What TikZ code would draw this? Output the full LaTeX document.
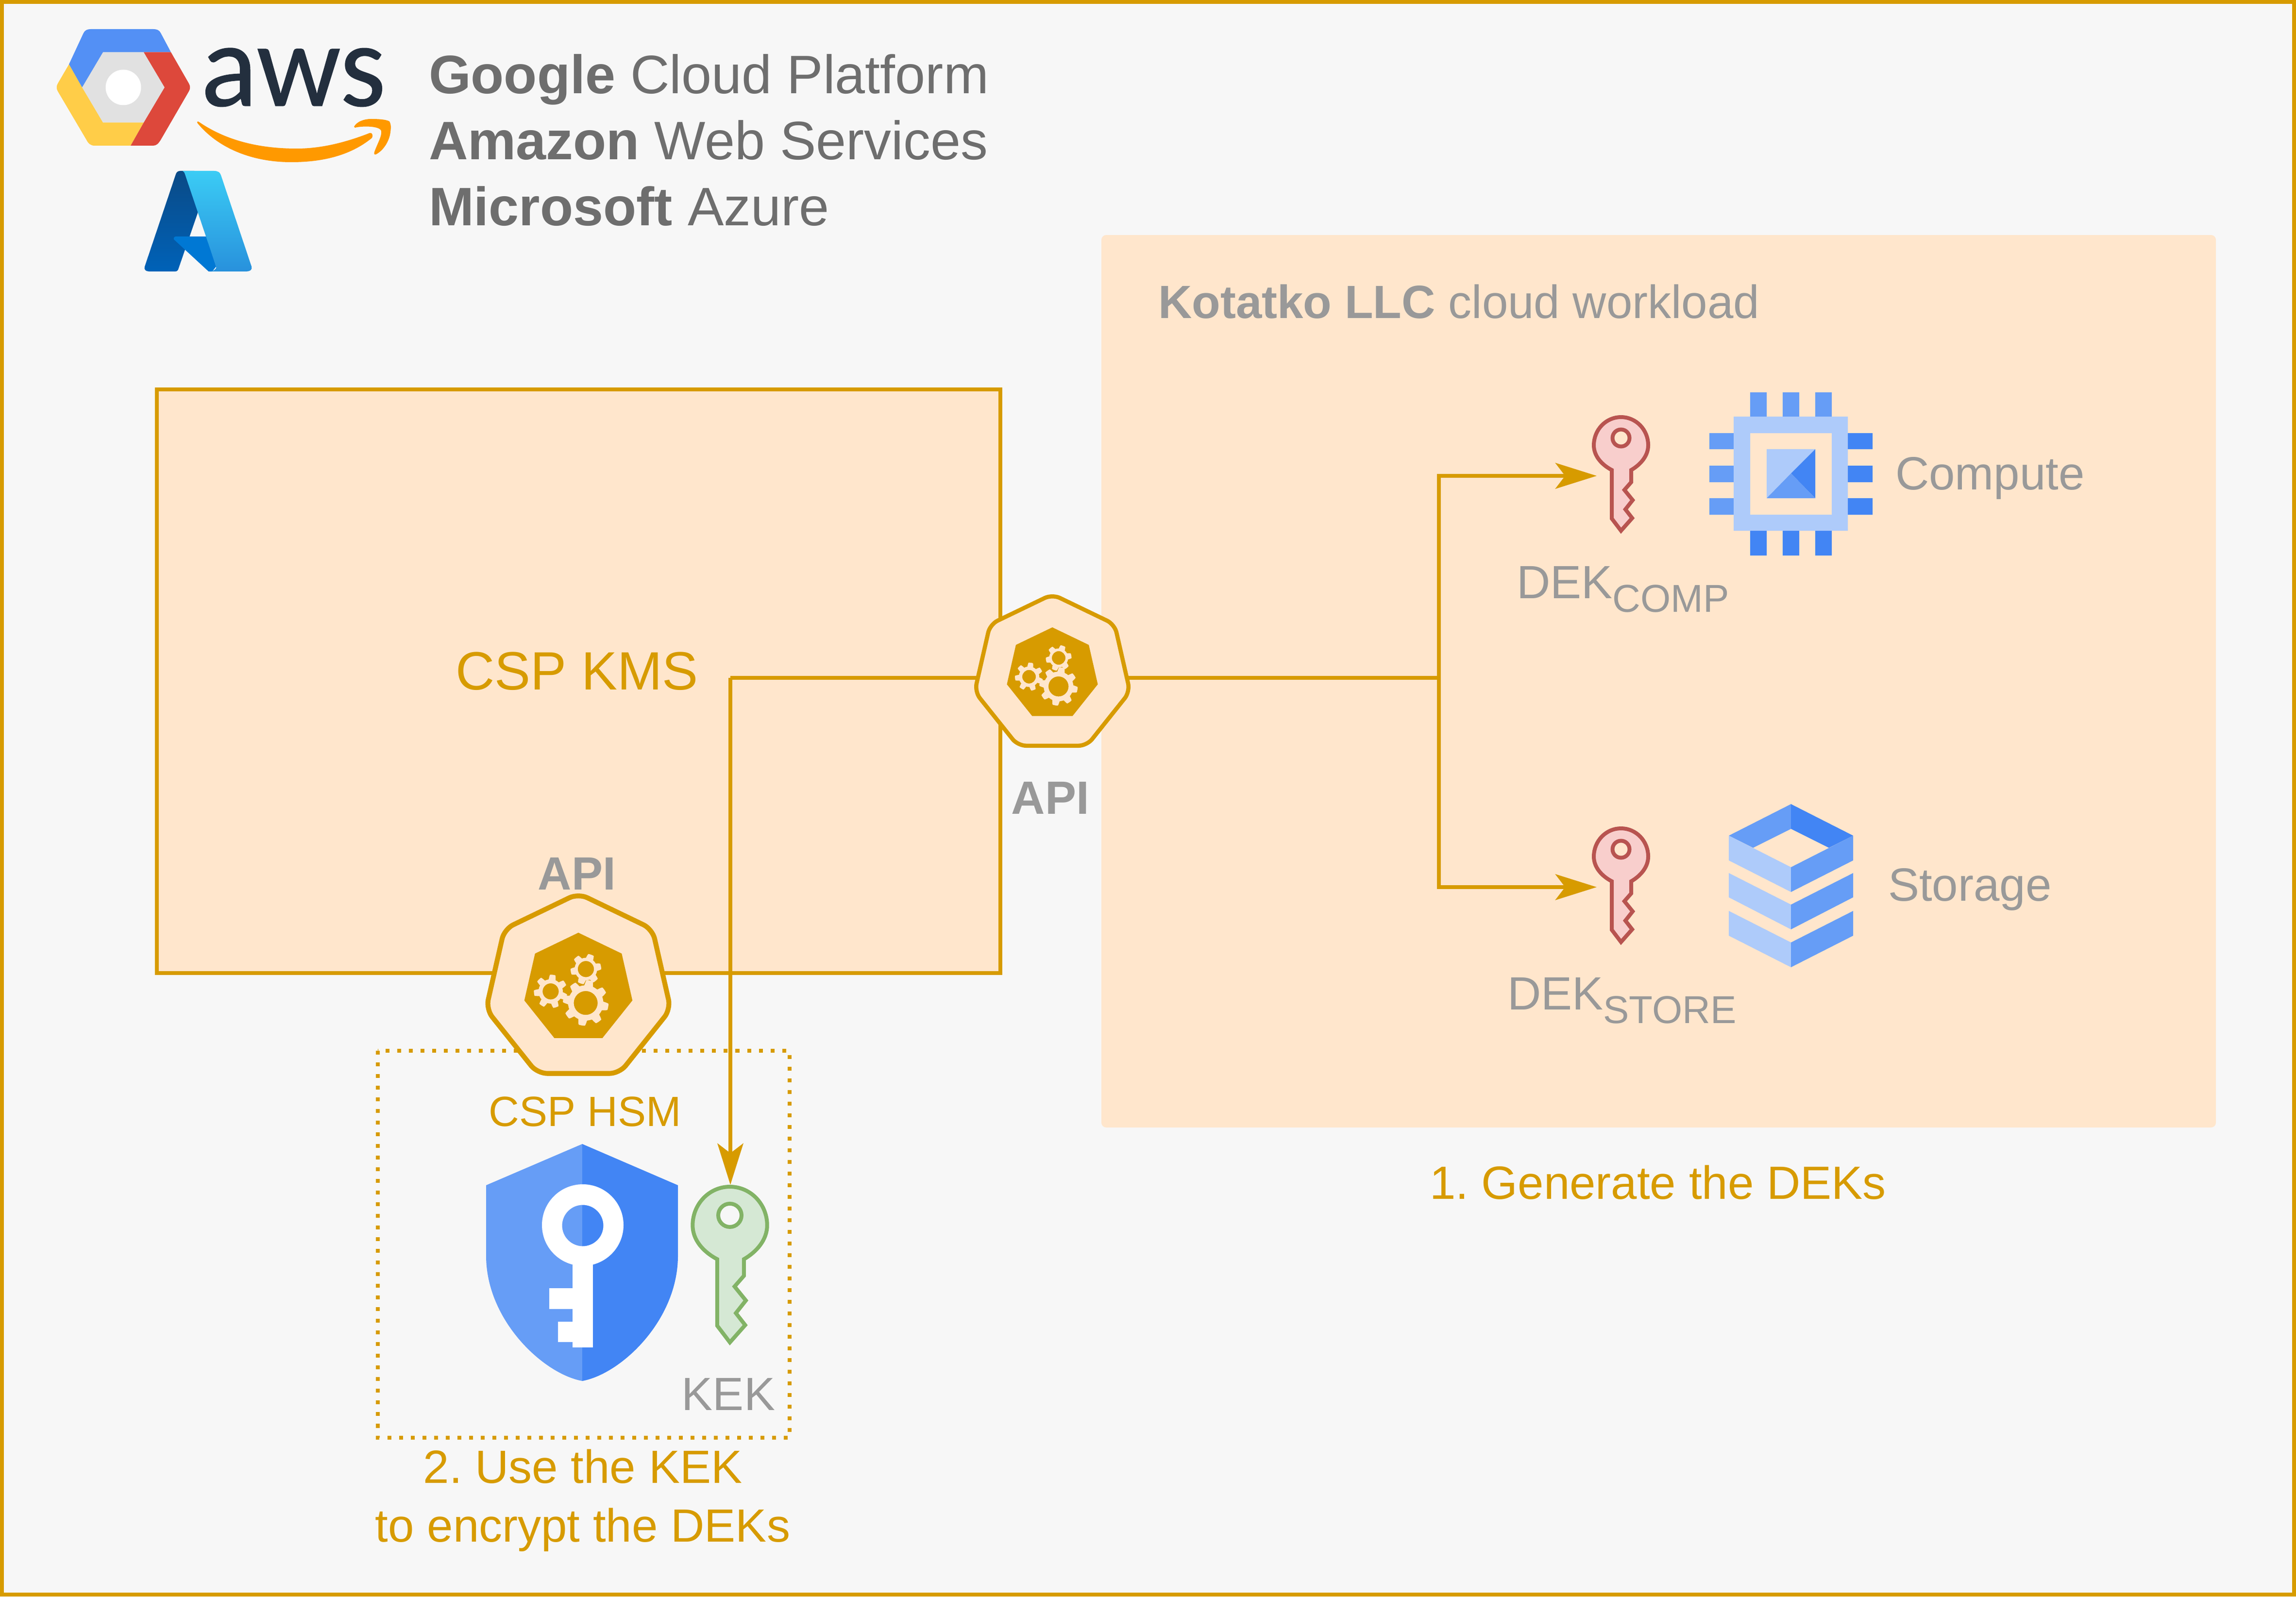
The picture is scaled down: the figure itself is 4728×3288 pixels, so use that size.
\documentclass[tikz,border=0pt]{standalone}
\usepackage{fontspec}
\setmainfont{Liberation Sans}
\newfontfamily\awsfont[FakeBold=0.5]{Carlito}
\usetikzlibrary{shapes.geometric,arrows.meta}
\definecolor{gold}{HTML}{D79B00}
\definecolor{peach}{HTML}{FFE6CC}
\definecolor{pagebg}{HTML}{F7F7F7}
\definecolor{lt}{HTML}{AECBFA}
\definecolor{md}{HTML}{669DF6}
\definecolor{dk}{HTML}{4285F4}
\definecolor{headtx}{HTML}{6E6E6E}
\definecolor{graytx}{HTML}{999999}
\definecolor{goldtx}{HTML}{D79B00}
\definecolor{gcpblue}{HTML}{5390F5}
\definecolor{gcpyellow}{HTML}{FFCD48}
\definecolor{gcpred}{HTML}{DD483B}
\definecolor{gcpgray}{HTML}{E1E1E1}
\definecolor{awsink}{HTML}{232F3E}
\definecolor{awsorange}{HTML}{FF9900}
\definecolor{azA}{HTML}{0A4A86}
\definecolor{azB}{HTML}{0062B8}
\definecolor{azC}{HTML}{0078D4}
\definecolor{azD}{HTML}{3BCCF5}
\definecolor{azE}{HTML}{2891DC}
\definecolor{redfill}{HTML}{F8CECC}
\definecolor{redline}{HTML}{B85450}
\definecolor{greenfill}{HTML}{D5E8D4}
\definecolor{greenline}{HTML}{82B366}
\pgfdeclarelayer{base}
\pgfdeclarelayer{conn}
\pgfsetlayers{base,conn,main}
\newcommand{\fpx}[1]{\pgfmathsetmacro\fpxv{#1*0.28453}\fontsize{\fpxv}{\fpxv}\selectfont}
\frenchspacing
\tikzset{
  x=0.01cm,y=-0.01cm,
  px8/.style={line width=0.08cm},
  tl/.style={inner sep=0pt,outer sep=0pt,anchor=base west},
  tc/.style={inner sep=0pt,outer sep=0pt,anchor=base},
  wire/.style={draw=gold,px8},
  tip/.style={-{Stealth[length=0.85cm,width=0.53cm,inset=0.2cm,fill=gold]}},
  heptout/.style={regular polygon,regular polygon sides=7,draw=gold,fill=peach,inner sep=0pt,outer sep=0pt},
  heptin/.style={regular polygon,regular polygon sides=7,fill=gold,inner sep=0pt,outer sep=0pt},
}
% key: centre x, top y, scale, fill, stroke, hole fill
\newcommand{\keyicon}[6]{%
  \begin{scope}[shift={(#1,#2)},scale=#3]
    \filldraw[fill=#4,draw=#5,line width=0.08cm,miter limit=4]
      (-19,109) .. controls (-40,98) and (-56,80) .. (-56,58)
      .. controls (-56,26) and (-31,0) .. (0,0)
      .. controls (31,0) and (56,26) .. (56,58)
      .. controls (56,80) and (40,98) .. (21,109)
      -- (21,134) -- (7,150) -- (24,171) -- (9,190) -- (23,208) -- (0,234) -- (-19,209) -- cycle;
    \filldraw[fill=#6,draw=#5,line width=0.08cm] (0,43) circle (17.5);
  \end{scope}}
% gear: cx, cy, mid radius, amplitude, hole, teeth, phase
\newcommand{\gearicon}[7]{%
  \fill[peach,even odd rule]
    plot[domain=0:360,samples=289,variable=\t]
      ({#1+(#3+#4*max(-1,min(1,2.4*cos(#6*(\t-#7)))))*cos(\t)},
       {#2+(#3+#4*max(-1,min(1,2.4*cos(#6*(\t-#7)))))*sin(\t)}) -- cycle
    (#1,#2) circle (#5);}
% API heptagon: name, cx, cy, R
\newcommand{\apihex}[4]{%
  \pgfmathsetmacro\hs{#4/164}
  \pgfmathsetmacro\hdo{2*#4*0.01}
  \pgfmathsetmacro\hdi{2*96*\hs*0.01}
  \pgfmathsetmacro\hlw{0.085*\hs}
  \pgfmathsetmacro\hrc{0.17*\hs}
  \node[heptout,minimum size=\hdo cm,line width=\hlw cm,rounded corners=\hrc cm] (#1) at (#2,#3) {};
  \node[heptin,minimum size=\hdi cm] (#1in) at (#2,#3) {};
  \begin{scope}[shift={(#2,#3)},scale=\hs]
    \gearicon{12.7}{25.7}{35}{4.5}{20.7}{8}{10}
    \gearicon{13}{-33}{23}{3.5}{14}{6}{-10}
    \gearicon{-48}{5.7}{25}{4}{14}{7}{20}
  \end{scope}}
\begin{document}
\begin{tikzpicture}
\useasboundingbox (0,0) rectangle (4728,3288);
\begin{pgfonlayer}{base}
  \filldraw[fill=pagebg,draw=gold,px8] (4,4) rectangle (4724,3284);
  \fill[peach,rounded corners=0.1cm] (2268,484) rectangle (4563,2322);
  \filldraw[fill=peach,draw=gold,px8] (323,802) rectangle (2060,2004);
  \draw[gold,line width=0.08cm,dash pattern=on 0.08cm off 0.16cm] (778,2164) rectangle (1626,2961);
\end{pgfonlayer}

% cloud provider logos
\fill[gcpgray] (212,107.5) -- (296,107.5) -- (339,180) -- (296,252.5) -- (212,252.5) -- (169,180) -- cycle;
\fill[white] (254,180) circle (36.5);
\fill[gcpblue] (142,132.5) -- (172,68) .. controls (175,62) and (180,60) .. (187,60) -- (316,60) .. controls (323,60) and (328,62) .. (331,68) -- (352,107.5) -- (212,107.5) -- (169,180) -- cycle;
\fill[gcpyellow] (142,132.5) -- (119,172) .. controls (116,177) and (116,183) .. (119,188) -- (178,288) .. controls (182,296) and (187,300) .. (195,300) -- (269,300) -- (296,252.5) -- (212,252.5) -- (169,180) -- cycle;
\fill[gcpred] (352,107.5) -- (389,172) .. controls (392,177) and (392,183) .. (389,188) -- (331,288) .. controls (326,296) and (322,300) .. (315,300) -- (269,300) -- (296,252.5) -- (339,180) -- (296,107.5) -- cycle;
\node[inner sep=0pt,anchor=base,text=awsink,xscale=0.99] (awsword) at (604,218) {\awsfont\fpx{245}aws};
\fill[awsorange] (407,254) .. controls (404,250) and (408,249) .. (411,252) .. controls (470,292) and (540,306) .. (611,306) .. controls (660,306) and (710,294) .. (761,274) .. controls (766,272) and (769,279) .. (766,284) .. controls (720,322) and (660,334) .. (600,334) .. controls (520,334) and (450,306) .. (407,254) -- cycle;
\fill[awsorange] (729,261) .. controls (735,250) and (750,245) .. (764,245) .. controls (780,245) and (795,246) .. (802,250) .. controls (806,258) and (805,265) .. (804,272) .. controls (802,290) and (790,310) .. (774,318) .. controls (770,319) and (770,316) .. (771,313) .. controls (776,298) and (787,280) .. (785,270) .. controls (783,259) and (745,259) .. (731,263) -- cycle;
\shade[top color=azA,bottom color=azB] (371,352) .. controls (365,352) and (363,356) .. (362,359) -- (298,549) .. controls (296,555) and (300,559) .. (307,559) -- (361,559) .. controls (365,559) and (367,556) .. (368,552) -- (408,436) -- (400,352) -- cycle;
\fill[azC] (363,487) -- (425,487) -- (445,549) -- (437,559) -- (429.5,559) -- (358,493) .. controls (357,490) and (359,487) .. (363,487) -- cycle;
\shade[top color=azD,bottom color=azE] (376,352) -- (441,352) .. controls (449,352) and (453,355) .. (455,361) -- (518,549) .. controls (520,555) and (515,559) .. (508,559) -- (432,559) .. controls (441,558) and (447,553) .. (445,549) -- (381,359) .. controls (380,355) and (378,353) .. (376,352) -- cycle;

\node[tl,text=headtx] (gcp) at (883,193) {\fpx{111.5}\textbf{Google} Cloud Platform};
\node[tl,text=headtx] (amz) at (883,329) {\fpx{111.5}\textbf{Amazon} Web Services};
\node[tl,text=headtx] (msa) at (883,464) {\fpx{111.5}\textbf{Microsoft} Azure};

\node[tl,text=graytx] (wl) at (2385,655) {\fpx{96}\textbf{Kotatko LLC} cloud workload};
\node[tc,text=goldtx] (kms) at (1188,1420) {\fpx{111}CSP KMS};

\apihex{apiCloud}{2167}{1388}{164}
\apihex{apiHsm}{1191}{2035}{195}
\node[tc,text=graytx] (apilabR) at (2163,1676) {\fpx{96}\textbf{API}};
\node[tc,text=graytx] (apilabB) at (1188,1832) {\fpx{96}\textbf{API}};

% coordinates of the connectors
\coordinate (busL) at (1504,1396);
\coordinate (busR) at (2963,1396);
\coordinate (kekTip) at (1504,2440);
\coordinate (compTip) at (3288,980);
\coordinate (storeTip) at (3288,1827);
\begin{pgfonlayer}{conn}
  \draw[wire] (apiCloud |- busL) -- (busL);
  \draw[wire] (apiCloud |- busR) -- (busR);
  \draw[wire,tip] (busL) -- (kekTip);
  \draw[wire,tip] (busR) |- (compTip);
  \draw[wire,tip] (busR) |- (storeTip);
\end{pgfonlayer}

% keys
\keyicon{3338}{859}{1}{redfill}{redline}{peach}
\keyicon{3338}{1706}{1}{redfill}{redline}{peach}
\keyicon{1503}{2444}{1.37}{greenfill}{greenline}{pagebg}

\node[tl,text=graytx] (dekc) at (3123,1232) {\fpx{96}DEK\raisebox{-0.28cm}{\fpx{80}COMP}};
\node[tl,text=graytx] (deks) at (3104,2079) {\fpx{96}DEK\raisebox{-0.28cm}{\fpx{80}STORE}};

% compute chip
\fill[md] (3604,808) rectangle (3638,858) (3671,808) rectangle (3705,858) (3738,808) rectangle (3772,858);
\fill[dk] (3604,1093) rectangle (3638,1144) (3671,1093) rectangle (3705,1144) (3738,1093) rectangle (3772,1144);
\fill[md] (3520,892) rectangle (3570,925) (3520,959) rectangle (3570,993) (3520,1026) rectangle (3570,1060);
\fill[dk] (3805,892) rectangle (3856,925) (3805,959) rectangle (3856,993) (3805,1026) rectangle (3856,1060);
\fill[lt,even odd rule] (3570,858) rectangle (3805,1093) (3604,892) rectangle (3772,1060);
\fill[lt] (3638,925) -- (3738,925) -- (3638,1026) -- cycle;
\fill[dk] (3738,925) -- (3738,1026) -- (3688,975) -- cycle;
\fill[md] (3638,1026) -- (3738,1026) -- (3688,975) -- cycle;
\node[tl,text=graytx] (comp) at (3903,1008) {\fpx{96}Compute};

% storage
\fill[md] (3560,1721) -- (3688,1656) -- (3688,1707) -- (3610,1746) -- cycle;
\fill[dk] (3688,1656) -- (3816,1721) -- (3766,1746) -- (3688,1707) -- cycle;
\fill[lt] (3560,1721) -- (3688,1786) -- (3688,1837) -- (3560,1772) -- cycle;
\fill[md] (3816,1721) -- (3688,1786) -- (3688,1837) -- (3816,1772) -- cycle;
\fill[lt] (3560,1798) -- (3688,1863) -- (3688,1914) -- (3560,1848) -- cycle;
\fill[md] (3816,1798) -- (3688,1863) -- (3688,1914) -- (3816,1848) -- cycle;
\fill[lt] (3560,1876) -- (3688,1941) -- (3688,1992) -- (3560,1927) -- cycle;
\fill[md] (3816,1876) -- (3688,1941) -- (3688,1992) -- (3816,1927) -- cycle;
\node[tl,text=graytx] (stor) at (3888,1855) {\fpx{96}Storage};

% shield with key
\fill[md] (1199,2356) -- (1001,2441) -- (1001,2586) .. controls (1001,2720) and (1120,2830) .. (1199,2844) -- cycle;
\fill[dk] (1199,2356) -- (1396,2441) -- (1396,2586) .. controls (1396,2720) and (1278,2830) .. (1199,2844) -- cycle;
\fill[white,even odd rule] (1200,2523) circle (84) (1200,2524) circle (42.5);
\fill[white] (1179,2590) rectangle (1221,2775);
\fill[white] (1131,2653) rectangle (1179,2696);
\fill[white] (1149,2722) rectangle (1179,2764);

\node[tc,text=goldtx] (hsm) at (1205,2319) {\fpx{87}CSP HSM};
\node[tc,text=graytx] (keklab) at (1500,2904) {\fpx{96}KEK};
\node[tc,text=goldtx] (step2a) at (1200,3054) {\fpx{96}2. Use the KEK};
\node[tc,text=goldtx] (step2b) at (1200,3175) {\fpx{96}to encrypt the DEKs};
\node[tc,text=goldtx] (step1) at (3414,2469) {\fpx{96}1. Generate the DEKs};
\end{tikzpicture}
\end{document}
